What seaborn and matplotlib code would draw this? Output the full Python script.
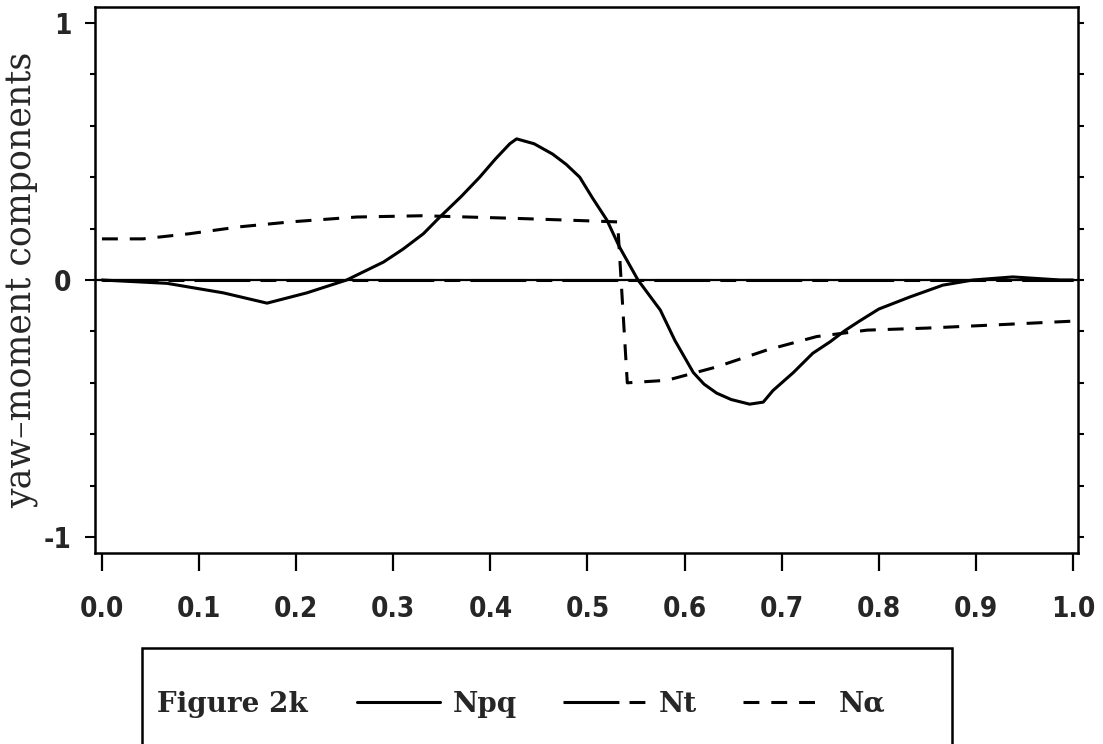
import matplotlib
matplotlib.use("Agg")
import matplotlib.pyplot as plt
from matplotlib.patches import Rectangle
from matplotlib.ticker import MultipleLocator, FixedLocator
from matplotlib import font_manager
import seaborn as sns
import pandas as pd

# ---- data ----
npq_x = [0.0, 0.067, 0.125, 0.170, 0.211, 0.252, 0.29, 0.31, 0.331, 0.348, 0.37, 0.389,
         0.405, 0.42, 0.427, 0.445, 0.464, 0.478, 0.492, 0.505, 0.52, 0.533, 0.552, 0.575,
         0.59, 0.609, 0.62, 0.633, 0.648, 0.667, 0.681, 0.691, 0.70, 0.712, 0.732, 0.75,
         0.765, 0.78, 0.80, 0.832, 0.866, 0.897, 0.938, 0.987, 1.0]
npq_y = [0.0, -0.013, -0.05, -0.09, -0.05, 0.0, 0.07, 0.12, 0.18, 0.245, 0.325, 0.40,
         0.47, 0.53, 0.549, 0.53, 0.49, 0.45, 0.40, 0.32, 0.233, 0.128, 0.0, -0.117,
         -0.235, -0.36, -0.405, -0.44, -0.465, -0.483, -0.475, -0.43, -0.40, -0.36, -0.285, -0.24,
         -0.197, -0.16, -0.113, -0.066, -0.02, 0.0, 0.012, 0.0, 0.0]

na_x = [0.0, 0.042, 0.09, 0.142, 0.194, 0.262, 0.33, 0.424, 0.479, 0.531, 0.541, 0.582,
        0.633, 0.685, 0.736, 0.788, 0.85, 0.918, 1.0]
na_y = [0.16, 0.16, 0.18, 0.207, 0.226, 0.245, 0.25, 0.24, 0.233, 0.226, -0.40, -0.39,
        -0.338, -0.272, -0.22, -0.195, -0.187, -0.175, -0.16]

nt_x = [0.0, 1.0]
nt_y = [0.0, 0.0]

x_ticks = [0.0, 0.1, 0.2, 0.3, 0.4, 0.5, 0.6, 0.7, 0.8, 0.9, 1.0]
x_labels = ["0.0", "0.1", "0.2", "0.3", "0.4", "0.5", "0.6", "0.7", "0.8", "0.9", "1.0"]
y_ticks = [-1, 0, 1]
y_labels = ["-1", "0", "1"]
series_names = ["Npq", "Nt", "N\u03b1"]
fig_label = "Figure 2k"
y_title = "yaw\u2013moment components"

# ---- style ----
sns.set_style("ticks")
plt.rcParams["font.family"] = ["DejaVu Serif"]

tick_font = dict(family="DejaVu Sans", weight="bold", size=20, stretch="condensed")
leg_font = dict(family="DejaVu Serif", weight="bold", size=20)

fig = plt.figure(figsize=(11.03, 7.44), dpi=100)
ax = fig.add_axes([0.0861, 0.2567, 0.8912, 0.7339])

lw = 2.2
df_npq = pd.DataFrame({"x": npq_x, "y": npq_y})
df_na = pd.DataFrame({"x": na_x, "y": na_y})
df_nt = pd.DataFrame({"x": nt_x, "y": nt_y})

sns.lineplot(data=df_nt, x="x", y="y", ax=ax, color="black", lw=lw, estimator=None,
             linestyle=(0, (18.3, 3.3, 5.2, 3.3)), label=series_names[1])
ax.axhline(0, color="black", lw=1.6, zorder=3)
sns.lineplot(data=df_npq, x="x", y="y", ax=ax, color="black", lw=lw, estimator=None,
             linestyle="-", label=series_names[0])
sns.lineplot(data=df_na, x="x", y="y", ax=ax, color="black", lw=lw, estimator=None,
             linestyle=(0, (5.2, 3.9)), label=series_names[2])
ax.get_legend().remove()
for ln in ax.get_lines():
    ln.set_solid_joinstyle("round")

ax.set_xlim(-0.0072, 1.0051)
ax.set_ylim(-1.062, 1.062)

for s in ax.spines.values():
    s.set_linewidth(1.8)
    s.set_color("black")

ax.xaxis.set_major_locator(FixedLocator(x_ticks))
ax.set_xticklabels(x_labels, fontdict=tick_font)
ax.yaxis.set_major_locator(FixedLocator(y_ticks))
ax.set_yticklabels(y_labels, fontdict=tick_font)
ax.yaxis.set_minor_locator(MultipleLocator(0.2))
ax.tick_params(axis="x", which="major", direction="out", length=13, width=1.6, pad=17, color="black")
ax.tick_params(axis="y", which="major", direction="out", length=7, width=1.5, pad=10, color="black")
ax.tick_params(axis="y", which="minor", direction="out", length=3.5, width=1.5, color="black")
ax.set_xlabel("")
ax.set_ylabel(y_title, fontsize=25, family="DejaVu Serif")
ax.yaxis.set_label_coords(-0.057, 0.5)

ax2 = ax.twinx()
ax2.set_ylim(ax.get_ylim())
ax2.yaxis.set_major_locator(MultipleLocator(0.2))
ax2.tick_params(axis="y", direction="out", length=4.5, width=1.5, labelright=False, color="black")
for s in ax2.spines.values():
    s.set_visible(False)

# ---- legend box ----
rect = Rectangle((142 / 1103, -0.05), (952 - 142) / 1103, 0.129 + 0.05,
                 transform=fig.transFigure, fill=False, lw=1.8, ec="black", clip_on=False)
fig.add_artist(rect)
fig.text(157 / 1103, 1 - 705 / 744, fig_label, va="center", ha="left", **leg_font)

lines = ax.get_lines()
handles = [lines[2], lines[0], lines[3]]
fig.legend(handles, series_names, loc="center left", bbox_to_anchor=(357 / 1103, 1 - 704 / 744),
           ncol=3, frameon=False, handlelength=3.0, handletextpad=0.45, columnspacing=1.65,
           borderpad=0, borderaxespad=0, prop=leg_font)

fig.savefig("out.png", dpi=100)
